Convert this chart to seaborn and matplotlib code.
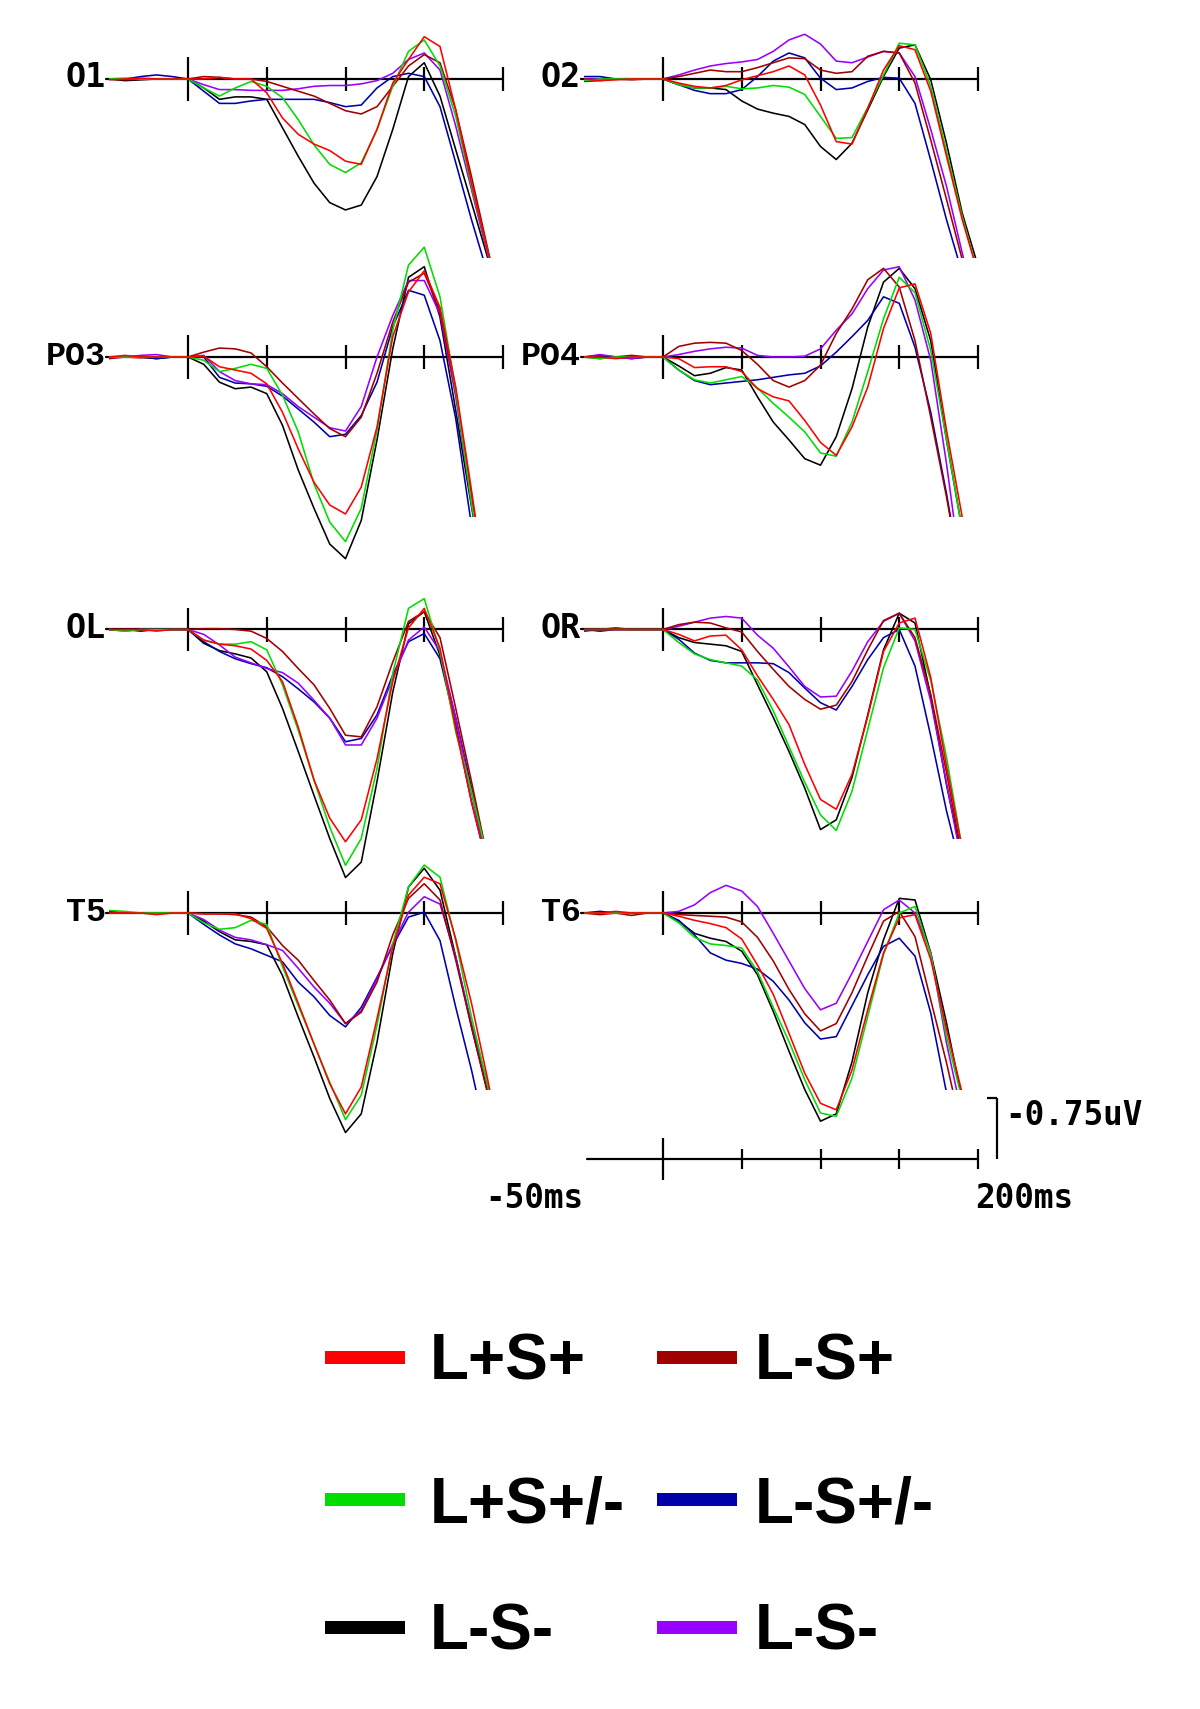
import matplotlib
matplotlib.use("Agg")
import matplotlib.pyplot as plt
from matplotlib.patches import Rectangle, Polygon
import pandas as pd
import seaborn as sns

# ---------------- data ----------------
TIMES_MS = [-50, -40, -30, -20, -10, 0, 10, 20, 30, 40, 50, 60, 70, 80, 90,
            100, 110, 120, 130, 140, 150, 160, 170, 180, 190, 200]
COND_KEYS = ["red", "darkred", "green", "blue", "black", "purple"]
COND_LABELS = ["L+S+", "L-S+", "L+S+/-", "L-S+/-", "L-S-", "L-S-"]
COND_COLORS = ["#ff0000", "#a00000", "#00dd00", "#0000aa", "#000000", "#9900ff"]
CHANNELS = ["O1", "O2", "PO3", "PO4", "OL", "OR", "T5", "T6"]
TICKS_MS = [0, 50, 100, 150, 200]
SCALE_UV = 0.75
# level (uV) at which each row's traces stop after the late peak
ROW_END_UV = [2.20, 1.97, 2.57, 2.18]

O1 = {
    "red":     [0.01, 0.00, -0.01, 0.00, 0.00, 0.00, 0.00, -0.02, 0.00, 0.00, 0.17, 0.48, 0.68, 0.80, 0.88, 1.01, 1.05, 0.62, 0.05, -0.24, -0.52, -0.40, 0.38, 1.28, 2.10, 2.90],
    "darkred": [0.00, 0.01, 0.00, 0.00, 0.00, 0.00, -0.03, -0.02, 0.00, 0.00, 0.03, 0.09, 0.15, 0.21, 0.30, 0.39, 0.43, 0.34, 0.09, -0.16, -0.30, -0.20, 0.38, 1.20, 2.06, 2.90],
    "green":   [0.00, -0.01, 0.00, 0.00, 0.00, 0.00, 0.11, 0.21, 0.11, 0.03, 0.09, 0.23, 0.50, 0.81, 1.05, 1.15, 1.03, 0.62, 0.09, -0.34, -0.48, -0.16, 0.46, 1.32, 2.10, 2.90],
    "blue":    [0.00, 0.00, -0.03, -0.05, -0.03, 0.00, 0.15, 0.30, 0.30, 0.27, 0.25, 0.25, 0.25, 0.25, 0.29, 0.34, 0.32, 0.11, -0.03, -0.07, -0.03, 0.34, 1.03, 1.73, 2.38, 3.00],
    "black":   [0.00, 0.02, 0.01, 0.00, 0.00, 0.00, 0.11, 0.25, 0.22, 0.22, 0.25, 0.60, 0.95, 1.28, 1.52, 1.61, 1.55, 1.20, 0.62, -0.03, -0.20, 0.21, 0.87, 1.52, 2.18, 2.90],
    "purple":  [0.00, 0.00, 0.00, 0.00, 0.00, 0.00, 0.07, 0.13, 0.13, 0.14, 0.14, 0.14, 0.12, 0.09, 0.08, 0.08, 0.06, 0.02, -0.07, -0.24, -0.32, -0.11, 0.58, 1.36, 2.14, 2.90],
}
O2 = {
    "red":     [0.00, 0.02, 0.01, 0.00, 0.00, 0.00, 0.05, 0.09, 0.11, 0.08, 0.01, -0.04, -0.09, -0.16, -0.05, 0.32, 0.77, 0.80, 0.36, -0.11, -0.41, -0.36, 0.15, 0.95, 1.73, 2.39],
    "darkred": [0.03, 0.02, 0.00, 0.01, 0.00, 0.00, -0.03, -0.07, -0.11, -0.09, -0.09, -0.14, -0.20, -0.26, -0.25, -0.11, -0.07, -0.09, -0.28, -0.34, -0.32, 0.05, 0.75, 1.48, 2.22, 2.90],
    "green":   [0.02, 0.00, 0.00, 0.00, 0.00, 0.00, 0.07, 0.11, 0.11, 0.09, 0.12, 0.11, 0.08, 0.10, 0.19, 0.46, 0.73, 0.72, 0.35, -0.05, -0.44, -0.42, 0.09, 0.89, 1.69, 2.39],
    "blue":    [-0.03, -0.03, 0.00, 0.00, 0.00, 0.00, 0.07, 0.14, 0.18, 0.18, 0.13, -0.03, -0.22, -0.32, -0.26, -0.01, 0.13, 0.11, 0.03, -0.02, -0.01, 0.30, 1.00, 1.73, 2.39, 3.00],
    "black":   [0.00, 0.00, 0.00, 0.00, 0.00, 0.00, 0.07, 0.11, 0.11, 0.13, 0.27, 0.37, 0.42, 0.46, 0.56, 0.83, 0.99, 0.79, 0.38, -0.03, -0.38, -0.42, 0.01, 0.79, 1.65, 2.30],
    "purple":  [0.00, 0.00, 0.00, 0.00, 0.00, 0.00, -0.05, -0.11, -0.16, -0.19, -0.21, -0.24, -0.34, -0.48, -0.55, -0.43, -0.22, -0.20, -0.27, -0.34, -0.32, -0.03, 0.62, 1.32, 2.14, 2.90],
}
PO3 = {
    "red":     [0.00, -0.02, 0.00, 0.00, 0.00, 0.00, -0.01, 0.12, 0.16, 0.20, 0.33, 0.68, 1.13, 1.54, 1.82, 1.93, 1.60, 0.86, -0.25, -0.80, -1.06, -0.61, 0.37, 1.64, 2.95, 3.50],
    "darkred": [0.02, 0.00, 0.01, 0.00, 0.00, 0.00, -0.06, -0.11, -0.10, -0.05, 0.12, 0.32, 0.51, 0.70, 0.88, 0.98, 0.74, 0.20, -0.43, -0.92, -1.03, -0.57, 0.41, 1.72, 2.90, 3.50],
    "green":   [0.00, 0.00, 0.00, 0.00, 0.00, 0.00, 0.04, 0.18, 0.14, 0.09, 0.14, 0.47, 0.92, 1.56, 2.03, 2.27, 1.86, 0.90, -0.33, -1.13, -1.35, -0.74, 0.41, 1.80, 2.95, 3.50],
    "blue":    [0.00, 0.00, 0.00, 0.02, 0.00, 0.00, 0.00, 0.25, 0.32, 0.33, 0.36, 0.48, 0.64, 0.80, 0.98, 0.95, 0.72, 0.31, -0.37, -0.82, -0.76, -0.20, 0.76, 2.07, 3.00, 3.50],
    "black":   [0.00, 0.00, 0.00, 0.02, 0.00, 0.00, 0.09, 0.31, 0.39, 0.37, 0.45, 0.84, 1.39, 1.86, 2.30, 2.48, 2.01, 1.02, -0.10, -0.98, -1.11, -0.49, 0.66, 1.84, 2.95, 3.50],
    "purple":  [0.00, 0.00, -0.02, -0.03, 0.00, 0.00, -0.02, 0.18, 0.29, 0.33, 0.34, 0.45, 0.61, 0.74, 0.87, 0.91, 0.61, 0.00, -0.51, -0.94, -0.94, -0.53, 0.49, 1.80, 2.90, 3.50],
}
PO4 = {
    "red":     [0.00, 0.00, 0.02, 0.00, 0.00, 0.00, 0.02, 0.13, 0.12, 0.12, 0.18, 0.39, 0.49, 0.54, 0.78, 1.05, 1.21, 0.86, 0.37, -0.35, -0.85, -0.90, -0.29, 0.90, 1.97, 3.00],
    "darkred": [0.00, 0.02, 0.00, -0.02, 0.00, 0.00, -0.13, -0.17, -0.18, -0.17, -0.08, 0.09, 0.29, 0.37, 0.29, 0.10, -0.29, -0.59, -0.95, -1.09, -0.86, -0.20, 0.74, 1.72, 2.80, 3.50],
    "green":   [0.00, 0.02, 0.00, 0.00, 0.00, 0.00, 0.16, 0.28, 0.32, 0.28, 0.24, 0.38, 0.57, 0.74, 0.92, 1.18, 1.22, 0.80, 0.18, -0.47, -0.98, -0.79, -0.08, 1.02, 2.13, 3.00],
    "blue":    [0.00, -0.02, 0.00, 0.00, 0.00, 0.00, 0.16, 0.29, 0.34, 0.32, 0.30, 0.28, 0.25, 0.22, 0.20, 0.11, -0.06, -0.25, -0.45, -0.74, -0.66, -0.12, 0.68, 1.68, 2.80, 3.50],
    "black":   [0.00, 0.00, 0.00, 0.02, 0.00, 0.00, 0.11, 0.23, 0.20, 0.13, 0.16, 0.49, 0.80, 1.02, 1.25, 1.33, 0.98, 0.39, -0.37, -0.92, -1.09, -0.84, -0.20, 1.02, 2.13, 3.00],
    "purple":  [0.00, -0.03, 0.00, 0.02, 0.00, 0.00, -0.03, -0.07, -0.10, -0.12, -0.11, -0.02, 0.00, 0.00, -0.01, -0.10, -0.33, -0.53, -0.84, -1.07, -1.11, -0.70, 0.04, 1.31, 2.75, 3.50],
}
OL = {
    "red":     [0.00, 0.00, 0.00, 0.02, 0.00, 0.00, 0.13, 0.18, 0.20, 0.24, 0.38, 0.64, 1.20, 1.85, 2.32, 2.61, 2.34, 1.59, 0.64, -0.02, -0.26, 0.23, 1.22, 2.12, 2.90, 3.50],
    "darkred": [0.00, 0.00, 0.00, 0.00, 0.00, 0.00, -0.01, -0.01, 0.00, 0.02, 0.11, 0.27, 0.48, 0.68, 0.97, 1.30, 1.32, 0.95, 0.40, -0.10, -0.22, 0.10, 0.97, 1.87, 2.80, 3.50],
    "green":   [0.00, 0.02, 0.00, 0.00, 0.00, 0.00, 0.13, 0.18, 0.18, 0.15, 0.25, 0.68, 1.24, 1.85, 2.43, 2.90, 2.57, 1.71, 0.54, -0.26, -0.38, 0.27, 1.26, 1.99, 2.80, 3.50],
    "blue":    [0.00, 0.00, 0.00, 0.00, 0.00, 0.00, 0.15, 0.27, 0.36, 0.42, 0.47, 0.58, 0.73, 0.89, 1.09, 1.38, 1.34, 1.05, 0.56, 0.15, 0.05, 0.36, 1.18, 2.12, 2.90, 3.50],
    "black":   [0.00, 0.00, 0.02, 0.00, 0.00, 0.00, 0.17, 0.26, 0.30, 0.35, 0.52, 0.97, 1.50, 2.04, 2.57, 3.05, 2.86, 1.87, 0.77, -0.07, -0.22, 0.32, 1.09, 1.95, 2.82, 3.50],
    "purple":  [0.00, 0.02, 0.00, 0.00, 0.00, 0.00, 0.06, 0.19, 0.34, 0.41, 0.48, 0.53, 0.66, 0.87, 1.09, 1.42, 1.42, 1.09, 0.60, 0.13, -0.03, 0.27, 1.09, 2.00, 2.90, 3.50],
}
OR = {
    "red":     [0.00, 0.00, 0.00, 0.00, 0.00, 0.00, 0.06, 0.14, 0.08, 0.07, 0.25, 0.57, 0.86, 1.17, 1.66, 2.09, 2.21, 1.78, 1.07, 0.27, -0.08, -0.14, 0.59, 1.68, 2.70, 3.50],
    "darkred": [0.00, 0.00, -0.02, 0.00, 0.00, 0.00, -0.06, -0.09, -0.08, -0.02, 0.03, 0.27, 0.49, 0.70, 0.86, 0.98, 0.93, 0.64, 0.25, -0.11, -0.20, 0.10, 0.80, 1.76, 2.80, 3.50],
    "green":   [0.00, 0.00, 0.00, 0.00, 0.00, 0.00, 0.16, 0.30, 0.37, 0.41, 0.45, 0.62, 1.00, 1.44, 1.88, 2.28, 2.47, 1.99, 1.23, 0.47, -0.02, 0.00, 0.63, 1.57, 2.70, 3.50],
    "blue":    [0.02, 0.00, 0.00, 0.00, 0.00, 0.00, 0.12, 0.29, 0.38, 0.41, 0.41, 0.41, 0.42, 0.53, 0.72, 0.90, 0.99, 0.70, 0.37, 0.10, 0.00, 0.45, 1.31, 2.23, 3.00, 3.50],
    "black":   [0.00, 0.02, 0.00, 0.00, 0.00, 0.00, 0.10, 0.16, 0.18, 0.20, 0.27, 0.68, 1.08, 1.50, 1.95, 2.46, 2.34, 1.82, 1.05, 0.25, -0.20, -0.08, 0.82, 1.91, 2.80, 3.50],
    "purple":  [0.00, 0.00, 0.00, 0.00, 0.00, 0.00, -0.04, -0.09, -0.14, -0.16, -0.14, 0.07, 0.23, 0.46, 0.70, 0.83, 0.82, 0.51, 0.15, -0.10, -0.20, 0.14, 0.88, 1.89, 2.90, 3.50],
}
T5 = {
    "red":     [0.00, 0.00, 0.00, 0.02, 0.00, 0.00, 0.01, 0.01, 0.01, 0.07, 0.19, 0.62, 1.11, 1.61, 2.10, 2.47, 2.14, 1.30, 0.42, -0.22, -0.44, -0.36, 0.32, 1.11, 2.02, 3.00],
    "darkred": [0.00, 0.00, 0.00, 0.00, 0.00, 0.00, 0.01, 0.01, 0.02, 0.05, 0.17, 0.40, 0.58, 0.83, 1.07, 1.36, 1.22, 0.85, 0.27, -0.18, -0.36, -0.16, 0.58, 1.40, 2.20, 3.00],
    "green":   [-0.03, -0.02, 0.00, 0.00, 0.00, 0.00, 0.12, 0.20, 0.18, 0.09, 0.14, 0.66, 1.14, 1.61, 2.08, 2.54, 2.24, 1.38, 0.38, -0.32, -0.59, -0.44, 0.34, 1.28, 2.10, 3.00],
    "blue":    [0.00, 0.00, 0.00, 0.00, 0.00, 0.00, 0.14, 0.27, 0.38, 0.44, 0.52, 0.60, 0.85, 1.03, 1.26, 1.40, 1.16, 0.79, 0.40, 0.05, -0.01, 0.34, 1.16, 1.93, 2.80, 3.50],
    "black":   [-0.02, 0.00, 0.00, 0.00, 0.00, 0.00, 0.10, 0.23, 0.33, 0.35, 0.39, 0.77, 1.28, 1.77, 2.28, 2.70, 2.47, 1.59, 0.50, -0.32, -0.55, -0.28, 0.54, 1.40, 2.18, 3.00],
    "purple":  [0.00, 0.00, 0.00, 0.00, 0.00, 0.00, 0.08, 0.21, 0.30, 0.33, 0.39, 0.46, 0.68, 0.91, 1.11, 1.36, 1.20, 0.81, 0.38, -0.01, -0.20, -0.11, 0.54, 1.36, 2.10, 3.00],
}
T6 = {
    "red":     [0.00, 0.00, -0.02, 0.00, 0.00, 0.00, 0.04, 0.09, 0.13, 0.18, 0.32, 0.64, 1.00, 1.48, 1.97, 2.34, 2.42, 1.93, 1.19, 0.49, 0.06, 0.02, 0.57, 1.43, 2.22, 3.20],
    "darkred": [0.00, 0.02, 0.00, 0.03, 0.00, 0.00, 0.02, 0.03, 0.04, 0.05, 0.11, 0.30, 0.59, 0.94, 1.24, 1.45, 1.36, 0.98, 0.53, 0.10, -0.02, 0.29, 1.07, 1.84, 2.70, 3.30],
    "green":   [0.00, 0.00, 0.00, 0.00, 0.00, 0.00, 0.12, 0.30, 0.38, 0.40, 0.43, 0.72, 1.16, 1.58, 2.05, 2.46, 2.50, 2.03, 1.27, 0.51, 0.00, -0.08, 0.51, 1.52, 2.30, 3.20],
    "blue":    [0.00, -0.02, 0.00, 0.00, 0.00, 0.00, 0.09, 0.27, 0.49, 0.58, 0.62, 0.69, 0.84, 1.07, 1.35, 1.55, 1.52, 1.14, 0.76, 0.41, 0.31, 0.53, 1.23, 2.21, 3.00, 3.50],
    "black":   [0.00, 0.00, 0.00, 0.00, 0.00, 0.00, 0.10, 0.25, 0.31, 0.35, 0.47, 0.76, 1.21, 1.70, 2.17, 2.56, 2.47, 1.83, 0.98, 0.33, -0.18, -0.16, 0.49, 1.35, 2.30, 3.20],
    "purple":  [0.00, 0.00, 0.00, 0.00, 0.00, 0.00, -0.02, -0.10, -0.25, -0.34, -0.27, -0.08, 0.25, 0.59, 0.93, 1.19, 1.11, 0.74, 0.35, -0.04, -0.16, 0.00, 0.49, 1.60, 2.50, 3.30],
}
PANEL_DATA = {"O1": O1, "O2": O2, "PO3": PO3, "PO4": PO4,
              "OL": OL, "OR": OR, "T5": T5, "T6": T6}

# ---------------- layout (pixels of a 1200x1709 canvas) ----------------
W, H = 1200, 1709
PX_PER_MS = 1.575
PX_PER_UV = 81.33
COL_ZERO_X = [188.0, 663.0]
ROW_AXIS_Y = [79.0, 357.0, 629.5, 913.0]
TOP_UV = -1.6
BOTTOM_UV = 3.4
BOTTOM_SCALE_Y = 1159.0
TAIL_FROM_MS = 150

rows = []
for ch in CHANNELS:
    for key in COND_KEYS:
        for t, v in zip(TIMES_MS, PANEL_DATA[ch][key]):
            rows.append({"channel": ch, "time_ms": t, "uV": v, "cond": key})
df = pd.DataFrame(rows)

sns.set_style("white")
plt.rcParams["font.family"] = ["DejaVu Sans"]
plt.rcParams["text.color"] = "black"

fig = plt.figure(figsize=(W / 100, H / 100), dpi=100)
fig.patch.set_facecolor("white")


def make_axes(col, axis_y, bottom_uv, top_uv):
    left = COL_ZERO_X[col] - 50 * PX_PER_MS
    width = 250 * PX_PER_MS
    top_px = axis_y + top_uv * PX_PER_UV
    bot_px = axis_y + bottom_uv * PX_PER_UV
    ax = fig.add_axes([left / W, 1 - bot_px / H, width / W, (bot_px - top_px) / H])
    ax.set_xlim(-50, 200)
    ax.set_ylim(bottom_uv, top_uv)   # negative up
    ax.axis("off")
    return ax


def draw_time_axis(ax, start_ms, big, small):
    ax.axhline(0, xmin=(start_ms + 50) / 250, xmax=1.0, color="black",
               lw=1.6, clip_on=False, zorder=1)
    for t in TICKS_MS:
        h = big if t == 0 else small
        ax.vlines(t, -h, h, color="black", lw=1.6, clip_on=False, zorder=1)


palette = dict(zip(COND_KEYS, COND_COLORS))
hue_order = ["black", "blue", "purple", "darkred", "green", "red"]
label_fonts = {"O1": "DejaVu Sans Mono", "O2": "DejaVu Sans Mono",
               "OL": "DejaVu Sans Mono", "OR": "DejaVu Sans Mono",
               "PO3": "Liberation Mono", "PO4": "Liberation Mono",
               "T5": "Liberation Mono", "T6": "Liberation Mono"}

for i, ch in enumerate(CHANNELS):
    row, col = divmod(i, 2)
    ax = make_axes(col, ROW_AXIS_Y[row], BOTTOM_UV, TOP_UV)
    n0 = len(ax.lines)
    sub = df[df["channel"] == ch]
    sns.lineplot(data=sub, x="time_ms", y="uV", hue="cond", hue_order=hue_order,
                 palette=palette, ax=ax, legend=False, linewidth=1.15,
                 estimator=None, sort=True, zorder=3)
    trace_lines = ax.lines[n0:]
    ax.axis("off")
    ax.set_xlim(-50, 200)
    ax.set_ylim(BOTTOM_UV, TOP_UV)
    # traces stop once they fall back to the row's end level after the late peak
    end = ROW_END_UV[row]
    keep = Polygon([(-200, TOP_UV - 5), (400, TOP_UV - 5), (400, end),
                    (TAIL_FROM_MS, end), (TAIL_FROM_MS, BOTTOM_UV + 5),
                    (-200, BOTTOM_UV + 5)], closed=True,
                   transform=ax.transData, facecolor="none", edgecolor="none")
    for ln in trace_lines:
        ln.set_clip_path(keep)
    draw_time_axis(ax, -52, 0.27, 0.15)
    ax.text(-52, 0.10, ch, ha="right", va="baseline", fontsize=24,
            fontweight="bold", family=[label_fonts[ch], "DejaVu Sans Mono"],
            color="black", clip_on=False)

# bottom calibration: time scale + amplitude bar
axs = make_axes(1, BOTTOM_SCALE_Y, 0.9, -1.0)
draw_time_axis(axs, -48, 0.26, 0.125)
bar_t = 212
axs.vlines(bar_t, -SCALE_UV, 0, color="black", lw=1.6, clip_on=False)
axs.hlines(-SCALE_UV, 205.5, bar_t, color="black", lw=1.6, clip_on=False)
mono = ["DejaVu Sans Mono"]
axs.text(217, -0.42, f"-{SCALE_UV:.2f}uV", ha="left", va="baseline",
         fontsize=23.5, fontweight="bold", family=mono, color="black", clip_on=False)
axs.text(-113, 0.60, "-50ms", ha="left", va="baseline", fontsize=23.5,
         fontweight="bold", family=mono, color="black", clip_on=False)
axs.text(198, 0.60, "200ms", ha="left", va="baseline", fontsize=23.5,
         fontweight="bold", family=mono, color="black", clip_on=False)

# legend (two columns, three rows)
axl = fig.add_axes([0, 0, 1, 1], zorder=-1)
axl.set_xlim(0, W)
axl.set_ylim(H, 0)
axl.axis("off")
leg_rows_y = [1357, 1499, 1627]
leg_cols = [(325, 430), (657, 755)]
leg_order = [[0, 2, 4], [1, 3, 5]]
for c, (sx, tx) in enumerate(leg_cols):
    for r, idx in enumerate(leg_order[c]):
        y = leg_rows_y[r]
        axl.add_patch(Rectangle((sx, y - 6.5), 80, 13, color=COND_COLORS[idx], lw=0))
        axl.text(tx, y + 23, COND_LABELS[idx], ha="left", va="baseline",
                 fontsize=46, fontweight="bold", color="black",
                 family=["Liberation Sans", "DejaVu Sans"])

fig.savefig("out.png", dpi=100, facecolor="white")
